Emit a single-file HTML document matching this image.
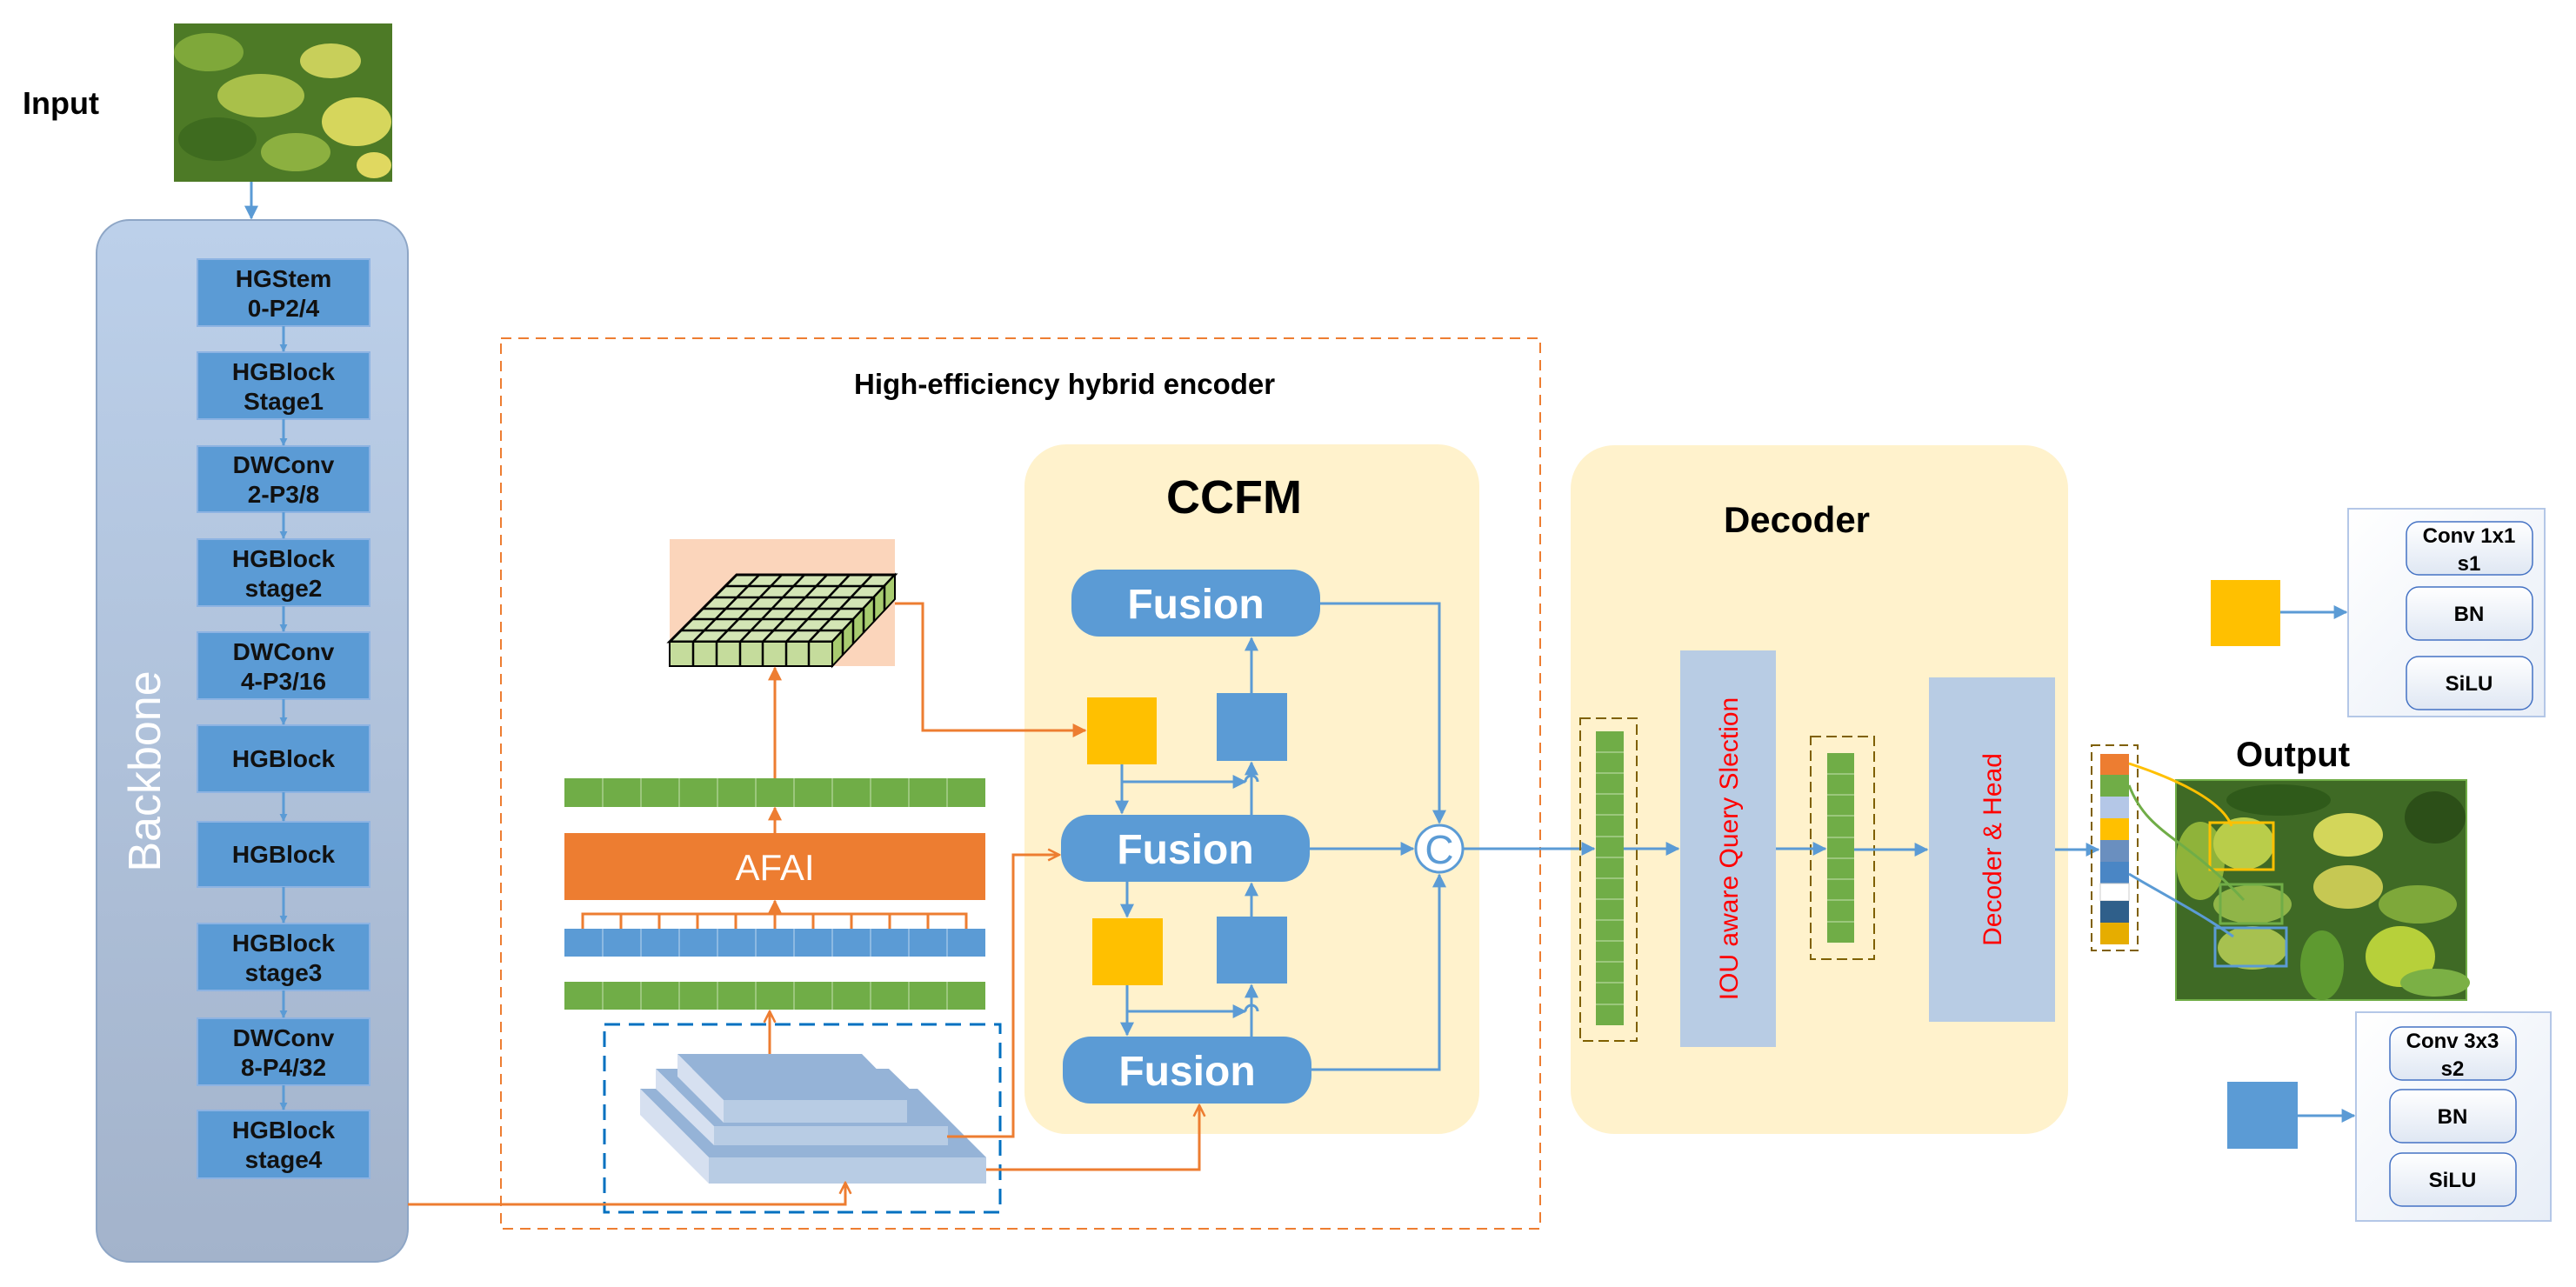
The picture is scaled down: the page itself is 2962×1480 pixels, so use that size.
<!DOCTYPE html>
<html><head><meta charset="utf-8"><style>
html,body{margin:0;padding:0;background:#fff;}
svg{display:block;font-family:"Liberation Sans",sans-serif;}
</style></head><body>
<svg width="2962" height="1480" viewBox="0 0 2962 1480" xmlns="http://www.w3.org/2000/svg">
<defs>
<marker id="ab" viewBox="0 0 10 10" refX="9" refY="5" markerWidth="9" markerHeight="9" markerUnits="userSpaceOnUse" orient="auto"><path d="M0,0L10,5L0,10z" fill="#5b9bd5"/></marker>
<marker id="abL" viewBox="0 0 10 10" refX="9" refY="5" markerWidth="16" markerHeight="16" markerUnits="userSpaceOnUse" orient="auto"><path d="M0,0L10,5L0,10z" fill="#5b9bd5"/></marker>
<marker id="ao" viewBox="0 0 10 10" refX="9" refY="5" markerWidth="16" markerHeight="16" markerUnits="userSpaceOnUse" orient="auto"><path d="M0,0L10,5L0,10z" fill="#ed7d31"/></marker>
<marker id="aoo" viewBox="0 0 10 10" refX="9" refY="5" markerWidth="16" markerHeight="16" markerUnits="userSpaceOnUse" orient="auto"><path d="M1,1L9,5L1,9" fill="none" stroke="#ed7d31" stroke-width="1.6"/></marker>
<linearGradient id="bb" x1="0" y1="0" x2="0" y2="1"><stop offset="0" stop-color="#bcd0ea"/><stop offset="1" stop-color="#a3b3cb"/></linearGradient>
<linearGradient id="lg" x1="0" y1="0" x2="1" y2="1"><stop offset="0" stop-color="#fff"/><stop offset="1" stop-color="#e8eef7"/></linearGradient>
<linearGradient id="sb" x1="0" y1="0" x2="0" y2="1"><stop offset="0" stop-color="#fff"/><stop offset="1" stop-color="#dfe7f3"/></linearGradient>
</defs>

<!-- Input -->
<text x="26" y="131" font-size="36" font-weight="bold">Input</text>
<g>
<rect x="200" y="27" width="251" height="182" fill="#4d7a26"/>
<ellipse cx="240" cy="60" rx="40" ry="22" fill="#7fa83a"/>
<ellipse cx="300" cy="110" rx="50" ry="25" fill="#a9c04a"/>
<ellipse cx="380" cy="70" rx="35" ry="20" fill="#c8cf5a"/>
<ellipse cx="410" cy="140" rx="40" ry="28" fill="#d6d65c"/>
<ellipse cx="250" cy="160" rx="45" ry="25" fill="#3e6b1f"/>
<ellipse cx="340" cy="175" rx="40" ry="22" fill="#8cb040"/>
<ellipse cx="430" cy="190" rx="20" ry="15" fill="#e0d860"/>
</g>
<line x1="289" y1="209" x2="289" y2="251" stroke="#5b9bd5" stroke-width="3" marker-end="url(#abL)"/>

<!-- Backbone -->
<rect x="111" y="253" width="358" height="1198" rx="38" fill="url(#bb)" stroke="#8ea6c6" stroke-width="2"/>
<text transform="translate(184,887) rotate(-90)" text-anchor="middle" font-size="52" fill="#fff">Backbone</text>
<g fill="#5b9bd5" stroke="#8db3e2" stroke-width="2">
<rect x="227" y="298" width="198" height="77"/>
<rect x="227" y="405" width="198" height="77"/>
<rect x="227" y="513" width="198" height="76"/>
<rect x="227" y="620" width="198" height="77"/>
<rect x="227" y="727" width="198" height="77"/>
<rect x="227" y="834" width="198" height="77"/>
<rect x="227" y="945" width="198" height="75"/>
<rect x="227" y="1062" width="198" height="77"/>
<rect x="227" y="1171" width="198" height="77"/>
<rect x="227" y="1277" width="198" height="78"/>
</g>
<g stroke="#5b9bd5" stroke-width="3">
<line x1="326" y1="375" x2="326" y2="404" marker-end="url(#ab)"/>
<line x1="326" y1="482" x2="326" y2="512" marker-end="url(#ab)"/>
<line x1="326" y1="589" x2="326" y2="619" marker-end="url(#ab)"/>
<line x1="326" y1="697" x2="326" y2="726" marker-end="url(#ab)"/>
<line x1="326" y1="804" x2="326" y2="833" marker-end="url(#ab)"/>
<line x1="326" y1="911" x2="326" y2="944" marker-end="url(#ab)"/>
<line x1="326" y1="1020" x2="326" y2="1061" marker-end="url(#ab)"/>
<line x1="326" y1="1139" x2="326" y2="1170" marker-end="url(#ab)"/>
<line x1="326" y1="1248" x2="326" y2="1276" marker-end="url(#ab)"/>
</g>
<g font-size="28" font-weight="bold" text-anchor="middle" fill="#111">
<text x="326" y="330">HGStem</text><text x="326" y="364">0-P2/4</text>
<text x="326" y="437">HGBlock</text><text x="326" y="471">Stage1</text>
<text x="326" y="544">DWConv</text><text x="326" y="578">2-P3/8</text>
<text x="326" y="652">HGBlock</text><text x="326" y="686">stage2</text>
<text x="326" y="759">DWConv</text><text x="326" y="793">4-P3/16</text>
<text x="326" y="882">HGBlock</text>
<text x="326" y="992">HGBlock</text>
<text x="326" y="1094">HGBlock</text><text x="326" y="1128">stage3</text>
<text x="326" y="1203">DWConv</text><text x="326" y="1237">8-P4/32</text>
<text x="326" y="1309">HGBlock</text><text x="326" y="1343">stage4</text>
</g>

<!-- Encoder dashed -->
<rect x="576" y="389" width="1195" height="1024" fill="none" stroke="#ed7d31" stroke-width="2" stroke-dasharray="12,8"/>
<text x="982" y="453" font-size="33" font-weight="bold">High-efficiency hybrid encoder</text>

<!-- cube -->
<rect x="770" y="620" width="259" height="146" fill="#fbd5bb"/>
<polygon points="847,661 1029,661 957,738 770,738" fill="#d3e5b5" stroke="#000" stroke-width="3"/>
<polygon points="770,738 957,738 957,766 770,766" fill="#c5dc9c" stroke="#000" stroke-width="2"/>
<polygon points="957,738 1029,661 1029,689 957,766" fill="#a8cc70" stroke="#000" stroke-width="2"/>
<g stroke="#000" stroke-width="2.5">
<line x1="873" y1="661" x2="797" y2="738"/><line x1="899" y1="661" x2="824" y2="738"/><line x1="925" y1="661" x2="851" y2="738"/>
<line x1="951" y1="661" x2="877" y2="738"/><line x1="977" y1="661" x2="904" y2="738"/><line x1="1003" y1="661" x2="930" y2="738"/>
<line x1="834" y1="674" x2="1017" y2="674"/><line x1="821" y1="687" x2="1005" y2="687"/><line x1="808" y1="700" x2="993" y2="700"/>
<line x1="796" y1="712" x2="981" y2="712"/><line x1="783" y1="725" x2="969" y2="725"/>
<line x1="797" y1="738" x2="797" y2="766"/><line x1="824" y1="738" x2="824" y2="766"/><line x1="851" y1="738" x2="851" y2="766"/>
<line x1="877" y1="738" x2="877" y2="766"/><line x1="904" y1="738" x2="904" y2="766"/><line x1="930" y1="738" x2="930" y2="766"/>
<line x1="969" y1="725" x2="969" y2="753"/><line x1="981" y1="712" x2="981" y2="740"/><line x1="993" y1="700" x2="993" y2="728"/><line x1="1005" y1="687" x2="1005" y2="715"/><line x1="1017" y1="674" x2="1017" y2="702"/>
</g>

<!-- bars -->
<g>
<rect x="649" y="895" width="484" height="33" fill="#70ad47"/>
<rect x="649" y="1068" width="484" height="32" fill="#5b9bd5"/>
<rect x="649" y="1129" width="484" height="32" fill="#70ad47"/>
<g stroke="#a9d08e" stroke-width="1.5">
<path d="M693,895v33M737,895v33M781,895v33M825,895v33M869,895v33M913,895v33M957,895v33M1001,895v33M1045,895v33M1089,895v33"/>
<path d="M693,1129v32M737,1129v32M781,1129v32M825,1129v32M869,1129v32M913,1129v32M957,1129v32M1001,1129v32M1045,1129v32M1089,1129v32"/>
</g>
<path d="M693,1068v32M737,1068v32M781,1068v32M825,1068v32M869,1068v32M913,1068v32M957,1068v32M1001,1068v32M1045,1068v32M1089,1068v32" stroke="#9dc3e6" stroke-width="1.5"/>
<rect x="649" y="958" width="484" height="77" fill="#ed7d31"/>
<text x="891" y="1012" text-anchor="middle" font-size="42" fill="#fff">AFAI</text>
</g>
<g stroke="#ed7d31" stroke-width="3" fill="none">
<path d="M670,1068V1051H1111V1068M714,1051v17M758,1051v17M802,1051v17M846,1051v17M891,1051v17M935,1051v17M979,1051v17M1023,1051v17M1067,1051v17"/>
<line x1="891" y1="1051" x2="891" y2="1036" marker-end="url(#ao)"/>
<line x1="891" y1="958" x2="891" y2="929" marker-end="url(#ao)"/>
<line x1="891" y1="895" x2="891" y2="768" marker-end="url(#ao)"/>
<line x1="885" y1="1212" x2="885" y2="1163" marker-end="url(#aoo)"/>
</g>

<!-- blue dashed box & slabs -->
<rect x="695" y="1178" width="455" height="216" fill="none" stroke="#0070c0" stroke-width="3" stroke-dasharray="18,10"/>
<g>
<polygon points="736,1252 1055,1252 1134,1331 815,1331" fill="#95b3d7"/>
<polygon points="815,1331 1134,1331 1134,1361 815,1361" fill="#b8cce4"/>
<polygon points="736,1252 815,1331 815,1361 736,1282" fill="#d6e0f0"/>
<polygon points="754,1229 1022,1229 1090,1295 821,1295" fill="#95b3d7"/>
<polygon points="821,1295 1090,1295 1090,1317 821,1317" fill="#b8cce4"/>
<polygon points="754,1229 821,1295 821,1317 754,1252" fill="#d6e0f0"/>
<polygon points="779,1212 991,1212 1043,1265 832,1265" fill="#95b3d7"/>
<polygon points="832,1265 1043,1265 1043,1291 832,1291" fill="#b8cce4"/>
<polygon points="779,1212 832,1265 832,1291 779,1238" fill="#d6e0f0"/>
</g>

<!-- CCFM -->
<rect x="1178" y="511" width="523" height="793" rx="48" fill="#fff2cc"/>
<text x="1419" y="590" text-anchor="middle" font-size="54" font-weight="bold">CCFM</text>
<!-- Decoder box -->
<rect x="1806" y="512" width="572" height="792" rx="50" fill="#fff2cc"/>

<!-- orange connectors (on top) -->
<g stroke="#ed7d31" stroke-width="3" fill="none">
<polyline points="469,1385 972,1385 972,1360" marker-end="url(#aoo)"/>
<polyline points="1089,1307 1165,1307 1165,983 1218,983" marker-end="url(#aoo)"/>
<polyline points="1134,1345 1379,1345 1379,1271" marker-end="url(#aoo)"/>
<polyline points="1029,694 1061,694 1061,840 1248,840" marker-end="url(#ao)"/>
</g>

<g fill="#5b9bd5">
<rect x="1232" y="655" width="286" height="77" rx="32"/>
<rect x="1220" y="937" width="286" height="77" rx="32"/>
<rect x="1222" y="1192" width="286" height="77" rx="32"/>
</g>
<g fill="#fff" font-size="48" font-weight="bold" text-anchor="middle">
<text x="1375" y="711">Fusion</text>
<text x="1363" y="993">Fusion</text>
<text x="1365" y="1248">Fusion</text>
</g>
<rect x="1250" y="802" width="80" height="77" fill="#ffc000"/>
<rect x="1399" y="797" width="81" height="78" fill="#5b9bd5"/>
<rect x="1256" y="1056" width="81" height="77" fill="#ffc000"/>
<rect x="1399" y="1054" width="81" height="77" fill="#5b9bd5"/>
<g stroke="#5b9bd5" stroke-width="3" fill="none">
<line x1="1439" y1="797" x2="1439" y2="734" marker-end="url(#abL)"/>
<line x1="1290" y1="879" x2="1290" y2="935" marker-end="url(#abL)"/>
<polyline points="1290,899 1432,899 M1446,899 1495,899 1495,836 1482,836" marker-end="url(#abL)"/>
<path d="M1432,899 a7,7 0 0 1 14,0"/>
<line x1="1439" y1="937" x2="1439" y2="877" marker-end="url(#abL)"/>
<line x1="1296" y1="1014" x2="1296" y2="1054" marker-end="url(#abL)"/>
<line x1="1439" y1="1054" x2="1439" y2="1016" marker-end="url(#abL)"/>
<line x1="1296" y1="1133" x2="1296" y2="1190" marker-end="url(#abL)"/>
<polyline points="1296,1163 1432,1163 M1446,1163 1512,1163 1512,1093 1482,1093" marker-end="url(#abL)"/>
<path d="M1432,1163 a7,7 0 0 1 14,0"/>
<line x1="1439" y1="1192" x2="1439" y2="1133" marker-end="url(#abL)"/>
<polyline points="1518,694 1655,694 1655,946" marker-end="url(#abL)"/>
<polyline points="1508,1230 1655,1230 1655,1006" marker-end="url(#abL)"/>
<line x1="1506" y1="976" x2="1625" y2="976" marker-end="url(#abL)"/>
<line x1="1683" y1="976" x2="1833" y2="976" marker-end="url(#abL)"/>
</g>
<circle cx="1655" cy="976" r="27" fill="#fff" stroke="#5b9bd5" stroke-width="3"/>
<text x="1655" y="993" text-anchor="middle" font-size="46" fill="#5b9bd5">C</text>

<!-- Decoder contents -->
<text x="2066" y="612" text-anchor="middle" font-size="42" font-weight="bold">Decoder</text>
<rect x="1817" y="826" width="65" height="371" fill="none" stroke="#7f6000" stroke-width="2" stroke-dasharray="12,6"/>
<rect x="1835" y="841" width="32" height="338" fill="#70ad47"/>
<path d="M1835,865h32M1835,889h32M1835,913h32M1835,937h32M1835,962h32M1835,986h32M1835,1010h32M1835,1034h32M1835,1058h32M1835,1082h32M1835,1106h32M1835,1130h32M1835,1155h32" stroke="#a9d08e" stroke-width="1.5"/>
<rect x="1932" y="748" width="110" height="456" fill="#b8cce4"/>
<text transform="translate(1998,976) rotate(-90)" text-anchor="middle" font-size="30" fill="#ff0000">IOU aware Query Slection</text>
<rect x="2082" y="847" width="73" height="256" fill="none" stroke="#7f6000" stroke-width="2" stroke-dasharray="12,6"/>
<rect x="2101" y="866" width="31" height="218" fill="#70ad47"/>
<path d="M2101,890h31M2101,914h31M2101,938h31M2101,963h31M2101,987h31M2101,1011h31M2101,1035h31M2101,1060h31" stroke="#a9d08e" stroke-width="1.5"/>
<rect x="2218" y="779" width="145" height="396" fill="#b8cce4"/>
<text transform="translate(2301,977) rotate(-90)" text-anchor="middle" font-size="30" fill="#ff0000">Decoder &amp; Head</text>
<g stroke="#5b9bd5" stroke-width="3">
<line x1="1867" y1="976" x2="1930" y2="976" marker-end="url(#abL)"/>
<line x1="2042" y1="976" x2="2099" y2="976" marker-end="url(#abL)"/>
<line x1="2132" y1="977" x2="2216" y2="977" marker-end="url(#abL)"/>
<line x1="2363" y1="977" x2="2413" y2="977" marker-end="url(#abL)"/>
</g>

<!-- output column -->
<rect x="2405" y="857" width="53" height="236" fill="none" stroke="#7f6000" stroke-width="2" stroke-dasharray="10,6"/>
<rect x="2415" y="867" width="33" height="24" fill="#ed7d31"/>
<rect x="2415" y="891" width="33" height="25" fill="#70ad47"/>
<rect x="2415" y="916" width="33" height="25" fill="#b4c7e7"/>
<rect x="2415" y="941" width="33" height="25" fill="#ffc000"/>
<rect x="2415" y="966" width="33" height="25" fill="#6a8fbf"/>
<rect x="2415" y="991" width="33" height="25" fill="#4a86c5"/>
<rect x="2415" y="1016" width="33" height="20" fill="#fff" stroke="#ccc"/>
<rect x="2415" y="1036" width="33" height="25" fill="#2f5f8a"/>
<rect x="2415" y="1061" width="33" height="25" fill="#e6ad00"/>

<text x="2571" y="881" font-size="40" font-weight="bold">Output</text>
<g>
<rect x="2502" y="897" width="334" height="253" fill="#3f6a25" stroke="#70ad47" stroke-width="2"/>
<ellipse cx="2530" cy="990" rx="28" ry="45" fill="#8fb33a"/>
<ellipse cx="2580" cy="970" rx="35" ry="30" fill="#b9cd4a"/>
<ellipse cx="2700" cy="960" rx="40" ry="25" fill="#d3d65a"/>
<ellipse cx="2700" cy="1020" rx="40" ry="25" fill="#c6c853"/>
<ellipse cx="2780" cy="1040" rx="45" ry="22" fill="#7ea83a"/>
<ellipse cx="2760" cy="1100" rx="40" ry="35" fill="#b7d03a"/>
<ellipse cx="2590" cy="1040" rx="45" ry="22" fill="#90b548"/>
<ellipse cx="2590" cy="1090" rx="40" ry="25" fill="#a7c150"/>
<ellipse cx="2670" cy="1110" rx="25" ry="40" fill="#5e9a30"/>
<ellipse cx="2620" cy="920" rx="60" ry="18" fill="#2f5a1a"/>
<ellipse cx="2800" cy="940" rx="35" ry="30" fill="#2c4f18"/>
<ellipse cx="2800" cy="1130" rx="40" ry="16" fill="#7bb045"/>
</g>
<rect x="2541" y="946" width="73" height="54" fill="none" stroke="#ffc000" stroke-width="3"/>
<rect x="2553" y="1017" width="71" height="45" fill="none" stroke="#70ad47" stroke-width="3"/>
<rect x="2547" y="1067" width="82" height="44" fill="none" stroke="#5b9bd5" stroke-width="3"/>
<g fill="none" stroke-width="3">
<path d="M2448,878 C2500,895 2555,920 2566,950" stroke="#ffc000"/>
<path d="M2448,903 C2470,960 2510,960 2580,1035" stroke="#70ad47"/>
<path d="M2448,1005 C2490,1030 2530,1050 2568,1077" stroke="#5b9bd5"/>
</g>

<!-- legends -->
<rect x="2542" y="667" width="80" height="76" fill="#ffc000"/>
<line x1="2622" y1="704" x2="2698" y2="704" stroke="#5b9bd5" stroke-width="3" marker-end="url(#abL)"/>
<rect x="2700" y="585" width="226" height="239" fill="url(#lg)" stroke="#b4c7e7" stroke-width="2"/>
<g fill="url(#sb)" stroke="#4472c4" stroke-width="1.5">
<rect x="2767" y="600" width="145" height="61" rx="14"/>
<rect x="2767" y="675" width="145" height="61" rx="14"/>
<rect x="2767" y="755" width="145" height="61" rx="14"/>
</g>
<g font-size="24" font-weight="bold" text-anchor="middle">
<text x="2839" y="624">Conv 1x1</text><text x="2839" y="656">s1</text>
<text x="2839" y="714">BN</text>
<text x="2839" y="794">SiLU</text>
</g>
<rect x="2561" y="1244" width="81" height="77" fill="#5b9bd5"/>
<line x1="2642" y1="1283" x2="2707" y2="1283" stroke="#5b9bd5" stroke-width="3" marker-end="url(#abL)"/>
<rect x="2709" y="1164" width="224" height="240" fill="url(#lg)" stroke="#b4c7e7" stroke-width="2"/>
<g fill="url(#sb)" stroke="#4472c4" stroke-width="1.5">
<rect x="2748" y="1181" width="145" height="61" rx="14"/>
<rect x="2748" y="1253" width="145" height="61" rx="14"/>
<rect x="2748" y="1326" width="145" height="61" rx="14"/>
</g>
<g font-size="24" font-weight="bold" text-anchor="middle">
<text x="2820" y="1205">Conv 3x3</text><text x="2820" y="1237">s2</text>
<text x="2820" y="1292">BN</text>
<text x="2820" y="1365">SiLU</text>
</g>
</svg>
</body></html>
